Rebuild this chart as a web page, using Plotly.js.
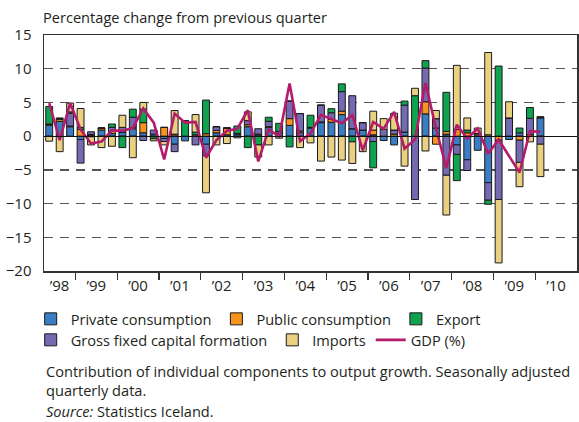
<!DOCTYPE html>
<html>
<head>
<meta charset="utf-8">
<script src="https://cdn.plot.ly/plotly-3.0.1.min.js"></script>
<style>
	body { margin: 0; background: #fff; }
	#graph { width: 579px; height: 422px; }
</style>
</head>
<body>
<div id="graph"></div>
<script>
// quarters 1998Q2 - 2010Q1
var quarters = [];
for (var yr = 1998; yr <= 2010; yr++) {
	for (var q = 1; q <= 4; q++) {
		if ((yr == 1998 && q == 1) || (yr == 2010 && q > 1)) continue;
		quarters.push(yr + 'Q' + q);
	}
}

// contribution to growth, %-points
var private_cons = [1.6, 2.2, 1.4, -0.5, 0.15, 0.9, 0.4, 0.6, 1.1, 0.5, 0.3, -0.35,
	-1.2, -0.7, 0, -1.2, 0.5, 0.2, 0.3, 1.4, 0.2, 1.3, 0.4, 1.6,
	0.5, 1.2, 2.0, 2.07, 3.2, 1.1, 0.9, 0.2, -0.65, -1.3, 0.6, 0,
	3.3, 1.2, 0.3, -1.3, -3.5, -2.1, -6.9, 0, -0.5, 0.5, 0, 2.7];
var public_cons = [0.2, 0.3, 0.1, 1.0, 0.1, 0.3, 0.3, 0, 0.2, 1.5, -0.1, 1.3,
	0.2, 0, 0.2, 0.35, 0.35, 1.0, 0.1, 0.3, 0.1, 0.1, 0, 1.0,
	0.25, 0.1, 0.1, 0.4, 0.5, 0, 0, 0.7, 0, 0.3, 0, 0,
	1.8, -1.2, 0.4, 1.0, 0.5, 0.2, 0.2, -0.6, 0, -0.6, 0.25, 0.15];
var gcf = [0, 0.1, 1.9, -3.5, 0.4, 0, 0.6, 0.7, 1.5, -0.65, 0.6, -0.45,
	-1.1, 0, -1.3, -1.7, 0.55, 0, 0, 0.6, 0.8, 0.8, 0.3, 2.6,
	2.6, 0, 2.5, 1.0, 2.9, 4.9, 1.1, -0.8, 1.0, 0.6, 4.0, -9.4,
	5.0, 1.4, -5.8, -1.4, -1.6, 0.2, -2.6, -8.8, 2.7, -3.3, 2.4, -1.2];
var exports_ = [2.6, 0.1, 0.2, 0.3, -0.1, 0, 0.5, -1.7, 1.2, 2.0, -0.3, 0,
	0.1, 2.3, 0.4, 5.0, 0, 0, 1.1, -1.7, -1.3, 0.6, 1.2, -1.6,
	0, 1.8, 0, 0.6, 1.15, -0.85, 0, -3.9, 0, 0, 0.6, 6.0,
	1.1, 0, 5.8, -3.9, 0.4, 0, -0.6, 10.4, 0, 0.7, 1.6, 0];
var imports_ = [-0.75, -2.3, 1.3, 2.8, -1.2, -1.7, -1.5, 1.8, -3.2, 1.0, -0.3, -0.5,
	3.5, 0, 2.6, -5.5, -1.3, -1.1, -0.25, 1.3, -1.8, -1.3, -0.3, 0,
	-1.7, -1.0, -3.7, -3.1, -3.55, -3.2, -2.3, 2.8, 1.6, 2.5, -4.45, 1.1,
	-2.2, 1.2, -5.9, 9.5, 1.8, 0.8, 12.2, -9.4, 2.4, -3.6, -0.85, -4.8];
var gdp = [4.9, -0.6, 4.9, 1.0, -1.1, -0.8, 0.85, 0.8, 1.2, 4.1, 2.0, -3.45,
	3.35, 2.0, 2.1, -3.2, -0.6, 0.8, 1.1, 3.85, -3.75, 1.0, -0.05, 7.8,
	-0.74, 0.4, 3.15, 2.5, 1.9, 3.15, -2.1, 2.1, 1.1, 3.6, -1.85, -0.5,
	7.9, 1.2, -4.7, 1.7, -0.35, 1.14, -2.6, -0.5, -2.9, -5.4, 0.74, 0.64];

var year_labels = ['\u201998', '\u201999', '\u201900', '\u201901', '\u201902', '\u201903', '\u201904',
	'\u201905', '\u201906', '\u201907', '\u201908', '\u201909', '\u201910'];
var year_starts = [1998, 1999, 2000, 2001, 2002, 2003, 2004, 2005, 2006, 2007, 2008, 2009, 2010];

// quarter label -> position in years (bar centred in its quarter)
function qpos(label) {
	var y = parseInt(label.substr(0, 4));
	var q = parseInt(label.substr(5));
	return y + (q - 0.5) / 4;
}
var xs = quarters.map(qpos);

var label_pos = year_starts.map(function(y) { return y + 0.5; });
label_pos[0] = 1998.62;

var font = 'Open Sans, sans-serif';
var txt = '#231f20';
var fs = 14.6;

// legend: first row in legend, second row in legend2
function barTrace(name, vals, color, rank, leg) {
	return {
		x: xs, y: vals, name: name, type: 'bar', width: 0.165,
		marker: {color: color, line: {color: '#1a1a1a', width: 1}},
		legend: leg, legendrank: rank, hoverinfo: 'skip'
	};
}

var traces = [
	barTrace('Private consumption', private_cons, '#3b7dc4', 1, 'legend'),
	barTrace('Public consumption', public_cons, '#f7941e', 2, 'legend'),
	barTrace('Gross fixed capital formation', gcf, '#7469b3', 4, 'legend2'),
	barTrace('Export', exports_, '#0fa24f', 3, 'legend'),
	barTrace('Imports', imports_, '#e9d181', 5, 'legend2'),
	{
		x: xs, y: gdp, name: 'GDP (%)', type: 'scatter', mode: 'lines',
		line: {color: '#b51b6b', width: 2.6}, legend: 'legend2', legendrank: 6, hoverinfo: 'skip'
	}
];

var legend_base = {
	orientation: 'h', x: -0.025, xanchor: 'left', yanchor: 'top',
	font: {family: font, size: fs, color: txt},
	traceorder: 'normal', itemclick: false, bgcolor: 'rgba(0,0,0,0)'
};

var layout = {
	width: 579, height: 422,
	margin: {l: 44, r: 2, t: 35, b: 151},
	paper_bgcolor: '#fff', plot_bgcolor: '#fff',
	barmode: 'relative',
	font: {family: font, size: fs, color: txt},
	showlegend: true,
	legend: Object.assign({}, legend_base, {y: -0.135}),
	legend2: Object.assign({}, legend_base, {y: -0.224}),
	xaxis: {
		range: [1998.25, 2011],
		tickmode: 'array', tickvals: label_pos, ticktext: year_labels,
		ticks: '', showgrid: false, zeroline: false,
		tickfont: {family: font, size: 15, color: txt},
		minor: {tickmode: 'array', tickvals: year_starts.slice(1), ticks: 'outside', ticklen: 7, tickwidth: 1.2, tickcolor: '#333', showgrid: false},
		showline: true, mirror: true, linecolor: '#333', linewidth: 1.5
	},
	yaxis: {
		range: [-20, 15],
		tickmode: 'array', tickvals: [-20, -15, -10, -5, 0, 5, 10, 15],
		ticks: '', ticklabelstandoff: 8,
		tickfont: {family: font, size: 15, color: txt},
		showgrid: true, gridcolor: '#555', gridwidth: 1.4, griddash: '9px,7px',
		zeroline: true, zerolinecolor: '#111', zerolinewidth: 1, zerolinelayer: 'above traces',
		showline: true, mirror: true, linecolor: '#333', linewidth: 1.5
	},
	annotations: [
		{xref: 'paper', yref: 'paper', x: -0.005, y: 1.076, xanchor: 'left', yanchor: 'middle', showarrow: false,
			text: 'Percentage change from previous quarter', font: {family: font, size: fs, color: txt}},
		{xref: 'paper', yref: 'paper', x: 0, y: -0.371, xanchor: 'left', yanchor: 'top', showarrow: false, align: 'left',
			text: 'Contribution of individual components to output growth. Seasonally adjusted<br>quarterly data.',
			font: {family: font, size: fs, color: txt}},
		{xref: 'paper', yref: 'paper', x: 0, y: -0.595, xanchor: 'left', yanchor: 'middle', showarrow: false,
			text: '<i>Source:</i> Statistics Iceland.', font: {family: font, size: fs, color: txt}}
	]
};

Plotly.newPlot('graph', traces, layout, {displayModeBar: false, staticPlot: true});
</script>
</body>
</html>
